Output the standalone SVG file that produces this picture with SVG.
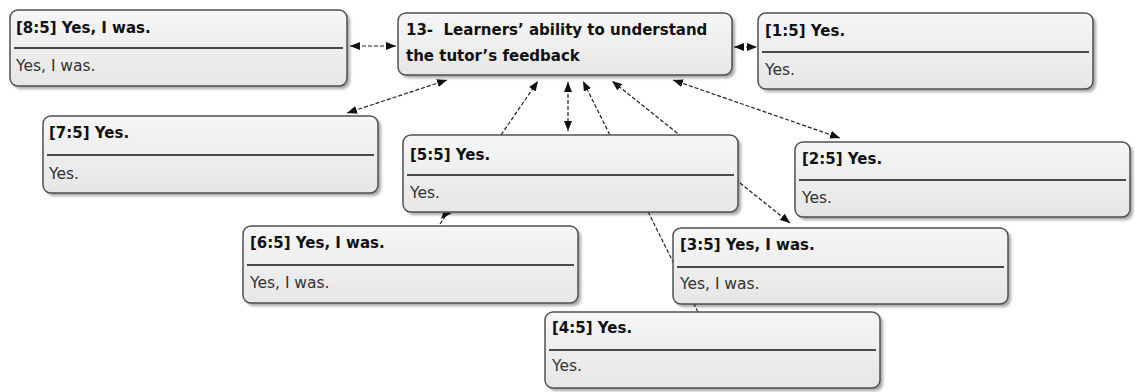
<svg xmlns="http://www.w3.org/2000/svg" width="1135" height="392" viewBox="0 0 1135 392">
<style>
.box{fill:url(#g);stroke:#505050;stroke-width:1.5}
.sh{fill:#000;opacity:0.35;filter:url(#blur)}
.div{stroke:#4a4a4a;stroke-width:2}
.t{font-family:"DejaVu Sans",Verdana,sans-serif;font-size:15px;font-weight:bold;fill:#111}
.b{font-family:"DejaVu Sans",Verdana,sans-serif;font-size:15.5px;fill:#333}
.c{fill:none;stroke:#222;stroke-width:1.2;stroke-dasharray:4 2}
</style>
<defs>
<linearGradient id="g" x1="0" y1="0" x2="0" y2="1">
<stop offset="0" stop-color="#f6f6f6"/>
<stop offset="1" stop-color="#e6e6e6"/>
</linearGradient>
<filter id="blur" x="-5%" y="-10%" width="110%" height="130%"><feGaussianBlur stdDeviation="1.5"/></filter>
<marker id="a" viewBox="0 0 10 8" refX="10" refY="4" markerWidth="10" markerHeight="8" markerUnits="userSpaceOnUse" orient="auto-start-reverse">
<path d="M0,0 L10,4 L0,8 z" fill="#111"/>
</marker>
</defs>
<g id="connectors">
<line class="c" x1="350" y1="46" x2="396" y2="46" marker-start="url(#a)" marker-end="url(#a)"/>
<line class="c" x1="734" y1="47" x2="757" y2="47" marker-start="url(#a)" marker-end="url(#a)"/>
<line class="c" x1="347" y1="113" x2="447" y2="80" marker-start="url(#a)" marker-end="url(#a)"/>
<line class="c" x1="440" y1="224" x2="538" y2="81" marker-end="url(#a)"/>
<polygon points="441,219 452,213 443,213" fill="#111"/>
<line class="c" x1="568" y1="82" x2="568" y2="131" marker-start="url(#a)" marker-end="url(#a)"/>
<line class="c" x1="698" y1="312" x2="583" y2="81" marker-end="url(#a)"/>
<line class="c" x1="790" y1="223" x2="612" y2="81" marker-start="url(#a)" marker-end="url(#a)"/>
<line class="c" x1="840" y1="138" x2="673" y2="80" marker-start="url(#a)" marker-end="url(#a)"/>
</g>
<g id="center">
<rect class="sh" x="401" y="16" width="334" height="62" rx="8"/>
<rect class="box" x="398" y="13" width="334" height="62" rx="8"/>
<text class="t" x="406" y="35" xml:space="preserve">13-  Learners’ ability to understand</text>
<text class="t" x="406" y="61">the tutor’s feedback</text>
</g>
<g id="n8">
<rect class="sh" x="13" y="13" width="337" height="76" rx="8"/>
<rect class="box" x="10" y="10" width="337" height="76" rx="8"/>
<line class="div" x1="14" y1="48" x2="343" y2="48"/>
<text class="t" x="16" y="33">[8:5] Yes, I was.</text>
<text class="b" x="16" y="71">Yes, I was.</text>
</g>
<g id="n1">
<rect class="sh" x="761" y="16" width="335" height="76" rx="8"/>
<rect class="box" x="758" y="13" width="335" height="76" rx="8"/>
<line class="div" x1="762" y1="52" x2="1089" y2="52"/>
<text class="t" x="765" y="36">[1:5] Yes.</text>
<text class="b" x="765" y="75">Yes.</text>
</g>
<g id="n7">
<rect class="sh" x="46" y="119" width="335" height="77" rx="8"/>
<rect class="box" x="43" y="116" width="335" height="77" rx="8"/>
<line class="div" x1="47" y1="155" x2="374" y2="155"/>
<text class="t" x="49" y="138">[7:5] Yes.</text>
<text class="b" x="49" y="179">Yes.</text>
</g>
<g id="n5">
<rect class="sh" x="406" y="138" width="335" height="77" rx="8"/>
<rect class="box" x="403" y="135" width="335" height="77" rx="8"/>
<line class="div" x1="407" y1="175" x2="734" y2="175"/>
<text class="t" x="410" y="160">[5:5] Yes.</text>
<text class="b" x="410" y="198">Yes.</text>
</g>
<g id="n2">
<rect class="sh" x="798" y="145" width="335" height="75" rx="8"/>
<rect class="box" x="795" y="142" width="335" height="75" rx="8"/>
<line class="div" x1="799" y1="180" x2="1126" y2="180"/>
<text class="t" x="802" y="164">[2:5] Yes.</text>
<text class="b" x="802" y="203">Yes.</text>
</g>
<g id="n6">
<rect class="sh" x="246" y="229" width="335" height="77" rx="8"/>
<rect class="box" x="243" y="226" width="335" height="77" rx="8"/>
<line class="div" x1="247" y1="265" x2="574" y2="265"/>
<text class="t" x="250" y="248">[6:5] Yes, I was.</text>
<text class="b" x="250" y="288">Yes, I was.</text>
</g>
<g id="n3">
<rect class="sh" x="676" y="231" width="335" height="76" rx="8"/>
<rect class="box" x="673" y="228" width="335" height="76" rx="8"/>
<line class="div" x1="677" y1="267" x2="1004" y2="267"/>
<text class="t" x="680" y="250">[3:5] Yes, I was.</text>
<text class="b" x="680" y="289">Yes, I was.</text>
</g>
<g id="n4">
<rect class="sh" x="548" y="315" width="335" height="76" rx="8"/>
<rect class="box" x="545" y="312" width="335" height="76" rx="8"/>
<line class="div" x1="549" y1="350" x2="876" y2="350"/>
<text class="t" x="552" y="333">[4:5] Yes.</text>
<text class="b" x="552" y="371">Yes.</text>
</g>
</svg>
